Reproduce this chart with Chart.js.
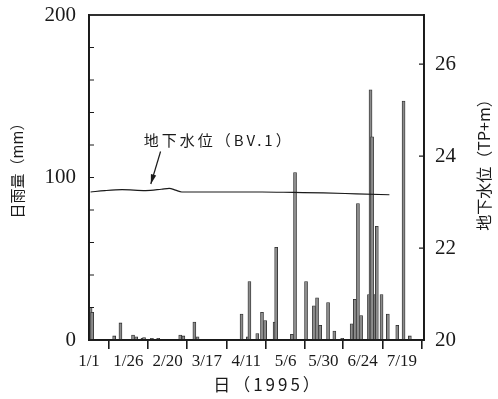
<!DOCTYPE html>
<html><head><meta charset="utf-8">
<script src="https://cdn.jsdelivr.net/npm/chart.js@4"></script>
<style>html,body{margin:0;padding:0;background:#fff}</style>
</head><body>
<canvas id="c" width="498" height="399"></canvas>
<script>
// ---- data ----
const rainDays = [1,2,16,20,28,30,34,35,40,44,58,60,67,69,97,101,102,107,110,112,118,119,129,131,138,143,145,147,152,156,161,167,169,171,173,178,179,180,182,183,186,190,196,200,204];
const rainMM   = [20,17,2.5,10.5,3,2,1,1.5,1,1,3,2.5,11,2,16,2,36,4,17,12,11,57,3.5,103,36,21,26,9,23,5.5,1,10,25,84,15,28,154,125,28,70,28,16,9,147,2.5];
const gwDays   = [1,10,21,36,46,51,55,59,80,110,130,149,170,191];
const gwLevel  = [23.22,23.25,23.27,23.25,23.28,23.30,23.26,23.22,23.22,23.22,23.21,23.20,23.18,23.16];
const xTickDays   = [0,25,50,75,100,125,149,174,199];
const xTickLabels = ['1/1','1/26','2/20','3/17','4/11','5/6','5/30','6/24','7/19'];
const leftLabeled = [0,100,200];
const rightTicks  = [20,22,24,26];
const leftTitle  = '日雨量（mm）';
const rightTitle = '地下水位（TP+m）';
const xTitle     = '日（1995）';
const seriesLabel = '地下水位（BV.1）';
// annotation anchor (data coordinates: day, mm)
const noteText = {day: 82.5, mm: 123};
const noteArrow = {fromDay: 45.5, fromMM: 116, toDay: 39.3, toMM: 96};

const INK = '#1a1a1a';
const serif = '"Liberation Serif", "DejaVu Serif", serif';
const cjk = '"Noto Sans CJK JP", "Noto Sans", sans-serif';

const decor = {
  id: 'decor',
  afterDatasetsDraw(chart) {
    const {ctx, chartArea: a, scales} = chart;
    ctx.save();
    ctx.strokeStyle = INK;
    ctx.lineWidth = 1.8;
    ctx.strokeRect(a.left, a.top, a.right - a.left, a.bottom - a.top);
    ctx.lineWidth = 1.2;
    ctx.beginPath();
    scales.y.ticks.forEach(t => {
      if (t.value <= scales.y.min || t.value >= scales.y.max) return;
      const py = scales.y.getPixelForValue(t.value);
      ctx.moveTo(a.left, py); ctx.lineTo(a.left + 5, py);
    });
    scales.y1.ticks.forEach(t => {
      if (t.value <= scales.y1.min || t.value >= scales.y1.max) return;
      const py = scales.y1.getPixelForValue(t.value);
      ctx.moveTo(a.right, py); ctx.lineTo(a.right - 5, py);
    });
    ctx.stroke();

    // annotation
    const tx = scales.x.getPixelForValue(noteText.day);
    const ty = scales.y.getPixelForValue(noteText.mm);
    ctx.fillStyle = INK;
    ctx.font = '15px ' + cjk;
    ctx.textAlign = 'center';
    ctx.textBaseline = 'middle';
    try { ctx.letterSpacing = '3px'; } catch(e) {}
    ctx.fillText(seriesLabel, tx, ty);
    try { ctx.letterSpacing = '0px'; } catch(e) {}
    const x1 = scales.x.getPixelForValue(noteArrow.fromDay), y1 = scales.y.getPixelForValue(noteArrow.fromMM);
    const x2 = scales.x.getPixelForValue(noteArrow.toDay), y2 = scales.y.getPixelForValue(noteArrow.toMM);
    ctx.lineWidth = 1.2;
    ctx.beginPath(); ctx.moveTo(x1, y1); ctx.lineTo(x2, y2); ctx.stroke();
    const ang = Math.atan2(y2 - y1, x2 - x1);
    ctx.beginPath();
    ctx.moveTo(x2, y2);
    ctx.lineTo(x2 - 10 * Math.cos(ang - 0.28), y2 - 10 * Math.sin(ang - 0.28));
    ctx.lineTo(x2 - 10 * Math.cos(ang + 0.28), y2 - 10 * Math.sin(ang + 0.28));
    ctx.closePath(); ctx.fill();

    // axis titles
    ctx.font = '15px ' + cjk;
    ctx.save();
    ctx.translate(17, 167); ctx.rotate(-Math.PI / 2);
    ctx.fillText(leftTitle, 0, 0);
    ctx.restore();
    ctx.font = '16px ' + cjk;
    ctx.save();
    ctx.translate(484, 161); ctx.rotate(-Math.PI / 2);
    ctx.fillText(rightTitle, 0, 0);
    ctx.restore();
    ctx.font = '17px ' + cjk;
    try { ctx.letterSpacing = '3px'; } catch(e) {}
    ctx.fillText(xTitle, 268, 385);
    try { ctx.letterSpacing = '0px'; } catch(e) {}
    ctx.restore();
  }
};

new Chart(document.getElementById('c'), {
  type: 'bar',
  data: {
    datasets: [
      {
        type: 'line',
        label: seriesLabel,
        data: gwDays.map((d, i) => ({x: d, y: gwLevel[i]})),
        yAxisID: 'y1',
        borderColor: INK,
        borderWidth: 1.2,
        pointRadius: 0,
        cubicInterpolationMode: 'monotone',
        order: 0
      },
      {
        type: 'bar',
        label: leftTitle,
        data: rainDays.map((d, i) => ({x: d, y: rainMM[i]})),
        yAxisID: 'y',
        barThickness: 3,
        backgroundColor: '#8c8c8c',
        borderColor: '#2a2a2a',
        borderWidth: 0.8,
        grouped: false,
        order: 1
      }
    ]
  },
  options: {
    responsive: false,
    devicePixelRatio: 1,
    animation: false,
    layout: {padding: {top: 15, left: 0, right: 0, bottom: 0}},
    plugins: {legend: {display: false}, tooltip: {enabled: false}},
    scales: {
      x: {
        type: 'linear',
        min: 0, max: 213,
        offset: false,
        afterBuildTicks: s => { s.ticks = xTickDays.map(v => ({value: v})); },
        afterFit: s => { s.height = 59; s.paddingLeft = 0; s.paddingRight = 0; },
        ticks: {
          autoSkip: false, maxRotation: 0,
          callback: (v, i) => xTickLabels[i],
          font: {family: serif, size: 17},
          color: INK,
          padding: 2
        },
        grid: {drawOnChartArea: false, drawTicks: true, tickLength: 9, color: INK, lineWidth: 1.6},
        border: {display: true, color: INK, width: 1.8}
      },
      y: {
        position: 'left',
        min: 0, max: 200,
        afterBuildTicks: s => {
          const t = [];
          for (let v = 0; v <= 200; v += 20) t.push({value: v});
          s.ticks = t;
        },
        afterFit: s => { s.width = 89; s.paddingTop = 0; s.paddingBottom = 0; },
        ticks: {
          callback: v => leftLabeled.includes(v) ? String(v) : '',
          font: {family: serif, size: 21},
          color: INK,
          padding: 13,
          autoSkip: false
        },
        grid: {display: true, drawOnChartArea: false, drawTicks: false},
        border: {display: true, color: INK, width: 1.8}
      },
      y1: {
        position: 'right',
        min: 20, max: 27.07,
        afterBuildTicks: s => { s.ticks = rightTicks.map(v => ({value: v})); },
        afterFit: s => { s.width = 74; s.paddingTop = 0; s.paddingBottom = 0; },
        ticks: {
          font: {family: serif, size: 21},
          color: INK,
          padding: 11,
          autoSkip: false
        },
        grid: {display: true, drawOnChartArea: false, drawTicks: false},
        border: {display: true, color: INK, width: 1.8}
      }
    }
  },
  plugins: [decor]
});
</script>
</body></html>
